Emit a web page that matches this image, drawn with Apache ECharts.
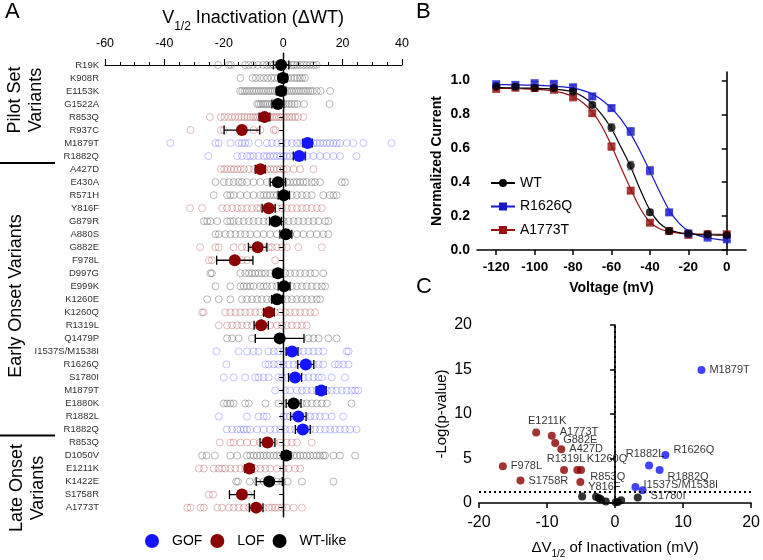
<!DOCTYPE html>
<html><head><meta charset="utf-8">
<script src="https://cdn.jsdelivr.net/npm/echarts@6/dist/echarts.min.js"></script>
<style>html,body{margin:0;padding:0;background:#fff}#c{width:763px;height:560px}</style>
</head><body><div id="c"></div><script>
// ---------- Panel A data ----------
const categories = ['R19K','K908R','E1153K','G1522A','R853Q','R937C','M1879T','R1882Q','A427D','E430A','R571H','Y816F','G879R','A880S','G882E','F978L','D997G','E999K','K1260E','K1260Q','R1319L','Q1479P','I1537S/M1538I','R1626Q','S1780I','M1879T','E1880K','R1882L','R1882Q','R853Q','D1050V','E1211K','K1422E','S1758R','A1773T'];
const phenotype = ['WT','WT','WT','WT','LOF','LOF','GOF','GOF','LOF','WT','WT','LOF','WT','WT','LOF','LOF','WT','WT','WT','LOF','LOF','WT','GOF','GOF','GOF','GOF','WT','GOF','GOF','LOF','WT','LOF','WT','LOF','LOF'];
const meanShift = [-0.7,-0.1,-0.7,-1.8,-6.3,-13.9,8.2,5.4,-7.7,-1.8,0.2,-4.9,-2.6,0.9,-8.6,-16.3,-1.8,0.3,-2.1,-4.8,-7.4,-1.2,3.0,7.6,4.0,12.8,3.5,5.1,6.6,-5.3,1.0,-11.4,-4.7,-13.9,-9.1];
const semShift = [2.6,1.5,1.6,2.0,1.8,6.0,1.6,2.0,1.7,2.6,1.9,2.2,2.0,2.0,3.1,6.1,1.5,2.0,1.8,1.8,2.4,8.2,2.0,2.7,2.2,1.7,2.5,2.6,2.5,2.5,1.5,1.5,4.4,4.2,2.3];
const cellShifts = [
 [-21.9,-18.3,-17.6,-12.8,-11.6,-10.2,-8.5,-6.8,-5.5,-4.3,-3.2,-2.1,-1.0,0.2,1.5,2.9,3.6,4.6,5.7,6.8,7.9,9.0,10.2,11.3],
 [-14.4,-10.3,-9.2,-7.8,-6.5,-5.3,-4.0,-2.9,-1.8,-0.8,0.5,1.6,2.7,3.8,4.7,5.6,6.4,7.3],
 [-14.5,-13.8,-13.0,-12.2,-11.4,-10.5,-9.8,-9.0,-8.2,-7.4,-6.6,-5.8,-5.0,-4.3,-3.5,-2.8,-2.0,-1.3,-0.5,0.4,1.2,2.0,2.8,3.6,4.4,5.2,6.0,6.8,7.6,8.4,9.2,10.0,11.3,12.6,15.8],
 [-8.8,-8.2,-7.5,-6.8,-6.1,-5.4,-4.6,-3.9,-3.1,-2.4,-1.6,-0.8,0.1,1.0,1.9,2.8,3.8,4.8,7.0,15.6],
 [-24.7,-21.0,-19.8,-18.5,-17.3,-16.2,-15.0,-14.0,-13.0,-12.0,-11.0,-10.2,-9.4,-8.6,-7.8,-7.0,-6.2,-5.4,-4.6,-3.8,-3.0,-2.2,-1.4,-0.6,0.3,1.2,2.1,3.0,4.0,5.0,6.8],
 [-31.2,-21.0,-20.0,-10.0,-7.7,-3.2,-2.6],
 [-38.0,-22.8,-21.7,-17.8,-15.0,-13.9,-12.8,-11.6,-8.3,-5.5,-3.8,-2.1,-0.5,1.2,2.9,4.6,5.7,6.8,7.9,9.0,10.2,11.3,12.4,13.5,14.6,15.7,16.9,18.0,19.1,21.4,23.6,27.0,36.5],
 [-25.2,-15.5,-13.9,-12.2,-11.1,-10.0,-8.3,-6.6,-5.5,-4.4,-3.2,-2.1,-1.0,0.1,1.2,2.3,3.5,4.6,5.7,6.8,7.9,10.2,12.4,14.6,16.9,19.1,24.7],
 [-21.0,-19.9,-18.8,-17.6,-16.5,-15.4,-14.3,-13.2,-11.5,-9.9,-8.2,-6.5,-5.4,-4.3,-3.2,-2.1,-1.0,0.1,1.2,3.5,5.7,10.2],
 [-22.8,-20.0,-18.3,-16.7,-15.0,-13.9,-12.2,-10.0,-7.7,-5.5,-3.8,-2.1,-0.4,1.2,2.3,3.5,4.6,5.7,6.8,7.9,9.6,10.7,12.4,19.7,20.8],
 [-23.4,-18.9,-17.8,-16.7,-14.4,-12.2,-10.0,-7.7,-6.6,-5.5,-4.4,-3.2,-2.1,-0.4,1.2,2.9,4.6,6.3,7.9,9.6,13.5,15.7,16.9,18.0],
 [-31.4,-27.3,-20.6,-18.9,-17.2,-15.5,-13.9,-12.2,-10.5,-8.8,-7.7,-6.6,-5.5,-3.8,-2.1,-0.4,1.2,2.9,4.6,6.3,7.9,9.6,11.3,13.0],
 [-26.7,-25.6,-24.5,-22.2,-18.9,-17.8,-16.7,-15.0,-13.3,-11.6,-10.0,-8.3,-6.6,-4.9,-3.2,-1.6,0.1,1.8,3.5,5.1,6.8,8.5,10.2,11.9,14.1,15.2],
 [-22.8,-21.7,-19.5,-17.8,-16.1,-14.4,-12.8,-11.1,-8.8,-6.6,-4.4,-2.1,0.1,2.3,4.6,6.8,9.1,11.3,13.5,15.2],
 [-28.0,-22.8,-21.7,-16.7,-13.9,-12.2,-10.0,-8.3,-6.6,-4.9,-3.8,-2.1,-0.4,1.2,5.1,13.0],
 [-25.0,-24.0,-13.9,-12.2,-2.7],
 [-24.5,-24.0,-14.4,-12.8,-11.6,-10.5,-9.4,-8.3,-7.2,-6.0,-4.4,-2.7,-1.0,0.7,2.3,4.0,5.7,7.4,9.1,10.7,13.5],
 [-22.8,-17.8,-14.4,-13.3,-12.2,-11.1,-10.0,-7.7,-6.6,-5.5,-3.8,-2.1,-0.4,1.2,2.9,4.6,6.3,7.9,9.6,11.3,13.0,14.1],
 [-25.6,-21.7,-17.8,-13.9,-12.2,-10.5,-8.8,-7.2,-5.5,-3.8,-2.1,-0.4,1.2,2.9,4.6,6.3,7.9,9.6,11.3,12.4],
 [-27.3,-26.8,-19.5,-17.8,-16.1,-14.4,-12.8,-11.1,-9.4,-7.7,-6.0,-4.4,-2.7,-1.0,0.7,2.3,4.0,5.7,7.4,9.1,10.7],
 [-21.7,-18.9,-17.2,-15.5,-13.9,-12.2,-10.5,-8.8,-6.6,-4.4,-2.1,-0.4,1.2,2.9,4.6,6.3,7.9],
 [-18.9,-17.2,-15.0,-10.5,8.5,10.2,11.9,15.2,18.0],
 [-22.5,-15.0,-12.2,-10.0,-8.3,-5.0,-3.2,-1.6,0.1,1.8,3.5,5.1,6.8,8.5,10.2,11.9,13.5,21.4,22.0],
 [-19.1,-6.0,-4.9,-3.2,-1.6,0.1,1.8,3.5,5.1,6.8,8.5,10.2,11.9,13.5,17.4,18.6,20.2,22.0],
 [-20.0,-16.7,-12.8,-9.4,-8.3,-6.6,-4.9,-1.6,-0.4,1.2,2.9,4.6,6.8,8.5,10.2,11.9,13.0,16.3,20.8],
 [-2.7,0.7,2.3,4.6,6.3,7.9,9.6,11.3,13.0,14.7,16.3,18.0,19.7,21.4,23.0,24.2,25.3],
 [-20.0,-18.9,-17.8,-16.7,-12.8,-11.6,-6.0,-1.6,1.2,2.9,4.6,6.3,7.9,9.6,11.3,13.0,14.7,23.0],
 [-21.7,-12.2,-8.3,-6.6,-5.5,0.1,1.2,2.3,4.0,5.7,7.4,9.1,10.7,12.4,14.1,16.3,20.2],
 [-19.0,-17.2,-15.5,-14.4,-13.3,-12.2,-11.1,-8.8,-6.6,-4.4,-2.7,-1.0,0.7,2.3,4.0,5.7,7.4,9.1,10.7,12.4,14.1,15.8,17.4,19.1,20.8,22.5,24.7],
 [-21.4,-17.8,-16.7,-14.4,-12.2,-10.0,-7.7,-5.5,-3.2,-1.0,1.2,2.9,4.6,9.6],
 [-27.3,-25.8,-23.0,-17.8,-15.5,-12.2,-11.1,-10.0,-8.8,-7.7,-6.6,-5.5,-4.4,-3.2,-2.1,-1.0,0.1,1.2,2.3,3.5,4.6,5.7,6.8,7.9,9.1,10.2,11.3,12.4,13.5,14.1,16.9,19.1,24.2],
 [-28.4,-26.7,-23.4,-21.7,-20.6,-19.5,-17.8,-16.1,-14.4,-12.8,-11.1,-9.4,-7.7,-6.0,-4.4,-2.1,0.1,1.8,4.0,5.7],
 [-15.8,-15.2,-11.3,-8.8,-6.6,-5.5,-2.1,-0.4,1.5,6.3,16.9],
 [-25.0,-23.6,-14.4,-11.6],
 [-32.3,-31.2,-27.8,-26.7,-22.2,-20.6,-18.3,-16.7,-15.0,-13.3,-11.6,-10.0,-8.3,-6.6,-4.9,-3.8,-2.7,-1.6,-0.4,1.2,3.5,6.3]
];

// ---------- Panel B data ----------
const voltages = [-120,-110,-100,-90,-80,-70,-60,-50,-40,-30,-20,-10,0];
const wtCurrent = [0.965,0.963,0.955,0.955,0.935,0.856,0.722,0.498,0.222,0.112,0.098,0.093,0.089];
const wtErr = [0.01,0.01,0.01,0.01,0.012,0.015,0.022,0.025,0.015,0.01,0.008,0.008,0.008];
const r1626qCurrent = [0.978,0.974,0.984,0.980,0.960,0.906,0.837,0.699,0.468,0.222,0.098,0.073,0.063];
const r1626qErr = [0.01,0.01,0.01,0.012,0.012,0.015,0.015,0.022,0.025,0.015,0.01,0.008,0.008];
const a1773tCurrent = [0.950,0.957,0.955,0.945,0.900,0.807,0.610,0.350,0.161,0.112,0.089,0.093,0.093];
const a1773tErr = [0.01,0.01,0.01,0.012,0.012,0.015,0.02,0.015,0.012,0.01,0.008,0.008,0.008];
// fitted curves, every 5 mV
const fitVoltages = [-120,-115,-110,-105,-100,-95,-90,-85,-80,-75,-70,-65,-60,-55,-50,-45,-40,-35,-30,-25,-20,-15,-10,-5,0];
const wtFit = [0.958,0.957,0.956,0.955,0.954,0.952,0.949,0.943,0.932,0.905,0.862,0.798,0.715,0.605,0.49,0.355,0.235,0.158,0.12,0.103,0.096,0.091,0.089,0.088,0.087];
const r1626qFit = [0.975,0.975,0.974,0.973,0.972,0.970,0.967,0.962,0.955,0.942,0.92,0.885,0.835,0.77,0.685,0.58,0.465,0.345,0.235,0.16,0.112,0.086,0.071,0.063,0.058];
const a1773tFit = [0.953,0.953,0.952,0.95,0.948,0.944,0.937,0.925,0.905,0.87,0.815,0.73,0.615,0.485,0.36,0.245,0.165,0.125,0.108,0.099,0.095,0.094,0.093,0.093,0.093];
const bXTicks = [-120,-100,-80,-60,-40,-20,0];
const bYTicks = [0,0.2,0.4,0.6,0.8,1.0];

// ---------- Panel C data ----------
const volcanoNames = ['E1211K','A1773T','G882E','A427D','F978L','R1319L','','K1260Q','S1758R','R853Q','Y816F','','','','','','','','','M1879T','R1626Q','R1882L','R1882Q','I1537S/M1538I','S1780I'];
const volcanoShift = [-11.6,-9.3,-8.8,-7.9,-16.5,-7.5,-5.55,-5.0,-13.9,-5.1,-4.84,-2.8,-2.4,-2.1,-1.35,0.1,0.4,0.9,3.34,12.7,7.4,5.0,6.55,3.0,4.05];
const volcanoLogP = [7.93,7.57,6.75,6.05,4.13,3.7,3.7,3.7,2.53,2.36,0.72,0.7,0.55,0.43,0.18,0.08,0.12,0.3,0.62,14.95,5.4,4.2,3.7,1.8,1.42];
const volcanoClass = ['LOF','LOF','LOF','LOF','LOF','LOF','LOF','LOF','LOF','LOF','WT','WT','WT','WT','WT','WT','WT','WT','WT','GOF','GOF','GOF','GOF','GOF','GOF'];

// ---------- styling ----------
const FONT = 'Liberation Sans, Arial, Helvetica, sans-serif';
const colMean = {GOF:'#1414ff', LOF:'#8b0000', WT:'#000000'};
const colOpen = {GOF:'rgba(40,40,255,0.38)', LOF:'rgba(150,25,25,0.4)', WT:'rgba(95,95,95,0.62)'};
const volcanoLabelStyle = {
 'E1211K':{position:'top',distance:2,offset:[11,0]},
 'A1773T':{position:'right',distance:4,offset:[0,-4]},
 'G882E':{position:'right',distance:4,offset:[0,-3]},
 'A427D':{position:'right',distance:4,offset:[0,0]},
 'F978L':{position:'right',distance:4,offset:[0,0]},
 'R1319L':{position:'top',distance:2,offset:[2,0]},
 'K1260Q':{position:'top',distance:2,offset:[26,0]},
 'S1758R':{position:'right',distance:4,offset:[0,0]},
 'R853Q':{position:'right',distance:4,offset:[2,-5]},
 'Y816F':{position:'right',distance:4,offset:[-2,-10]},
 'M1879T':{position:'right',distance:4,offset:[0,0]},
 'R1626Q':{position:'right',distance:4,offset:[0,-5]},
 'R1882L':{position:'top',distance:2,offset:[-4,0]},
 'R1882Q':{position:'right',distance:4,offset:[0,7]},
 'I1537S/M1538I':{position:'right',distance:4,offset:[0,-2]},
 'S1780I':{position:'right',distance:4,offset:[0,6]}
};

const yMinA = -0.92, yMaxA = 34.72;
const rowIdx = categories.map((c,i)=>i);

function openSeries(cls){
  const data = [];
  cellShifts.forEach((arr,i)=>{ if(phenotype[i]===cls) arr.forEach(v=>data.push([v,i])); });
  return {type:'scatter', xAxisIndex:0, yAxisIndex:0, name:'cells-'+cls, data, symbolSize:7, silent:true, z:1,
    itemStyle:{color:'rgba(0,0,0,0)', borderColor:colOpen[cls], borderWidth:0.9}};
}
function meanSeries(cls, name){
  const data = [];
  meanShift.forEach((m,i)=>{ if(phenotype[i]===cls) data.push([m,i]); });
  return {type:'scatter', xAxisIndex:0, yAxisIndex:0, name, data, symbolSize:12, z:6,
    itemStyle:{color:colMean[cls], opacity:1}};
}
function hErrRender(capH, color, lw){
  return function(params, api){
    const m = api.value(0), e = api.value(1), i = api.value(2);
    const a = api.coord([m-e, i]), b = api.coord([m+e, i]);
    const st = {stroke:color, lineWidth:lw};
    return {type:'group', children:[
      {type:'line', shape:{x1:a[0],y1:a[1],x2:b[0],y2:b[1]}, style:st},
      {type:'line', shape:{x1:a[0],y1:a[1]-capH,x2:a[0],y2:a[1]+capH}, style:st},
      {type:'line', shape:{x1:b[0],y1:b[1]-capH,x2:b[0],y2:b[1]+capH}, style:st}
    ]};
  };
}
function vErrRender(params, api){
  const x = api.value(0), y = api.value(1), e = api.value(2);
  const a = api.coord([x, y-e]), b = api.coord([x, y+e]);
  const st = {stroke:'#7a7a7a', lineWidth:1};
  const w = 3.5;
  return {type:'group', children:[
    {type:'line', shape:{x1:a[0],y1:a[1],x2:b[0],y2:b[1]}, style:st},
    {type:'line', shape:{x1:a[0]-w,y1:a[1],x2:a[0]+w,y2:a[1]}, style:st},
    {type:'line', shape:{x1:b[0]-w,y1:b[1],x2:b[0]+w,y2:b[1]}, style:st}
  ]};
}
function fitSeries(name, vals, color, symbol){
  return {type:'line', name, xAxisIndex:1, yAxisIndex:1, data:fitVoltages.map((v,i)=>[v,vals[i]]),
    smooth:0.35, symbol, symbolSize:8, showSymbol:false, z:2, silent:true,
    lineStyle:{color, width:1.2}, itemStyle:{color}};
}
function pointSeries(name, vals, color, symbol){
  return {type:'scatter', name, xAxisIndex:1, yAxisIndex:1, data:voltages.map((v,i)=>[v,vals[i]]),
    symbol, symbolSize:8, z:4, itemStyle:{color}};
}
function errSeriesB(vals, errs){
  return {type:'custom', xAxisIndex:1, yAxisIndex:1, name:'errB', renderItem:vErrRender, z:3,
    encode:{x:0,y:1}, data:voltages.map((v,i)=>[v,vals[i],errs[i]]), silent:true};
}

const volcanoData = volcanoNames.map((n,i)=>{
  const cls = volcanoClass[i];
  const item = {name:n, value:[volcanoShift[i], volcanoLogP[i]], itemStyle:{color:colMean[cls]}};
  if(n && volcanoLabelStyle[n]) item.label = Object.assign({show:true, formatter:n}, volcanoLabelStyle[n]);
  return item;
});

const axBlack = {lineStyle:{color:'#000', width:1.6}};
const option = {
  animation:false,
  textStyle:{fontFamily:FONT},
  grid:[
    {left:105, top:53, width:297, height:464},
    {left:477, top:72, width:269, height:178},
    {left:479, top:325, width:276, height:184}
  ],
  legend:[
    {data:['GOF','LOF','WT-like'], left:140, top:529, itemWidth:30, itemHeight:14, itemGap:8, icon:'circle',
      selectedMode:false, textStyle:{fontSize:14, color:'#000', fontFamily:FONT}},
    {data:['WT','R1626Q','A1773T'], orient:'vertical', left:485, top:171, itemWidth:24, itemHeight:10, itemGap:9.5,
      selectedMode:false, textStyle:{fontSize:14, color:'#000', fontFamily:FONT}}
  ],
  xAxis:[
    {gridIndex:0, type:'value', position:'top', min:-60, max:40, interval:20,
      axisLine:{show:true, lineStyle:{color:'#000', width:1.2}},
      axisTick:{show:true, length:6, lineStyle:{color:'#000', width:1.1}},
      minorTick:{show:true, splitNumber:4, length:3, lineStyle:{color:'#000', width:1}},
      axisLabel:{fontSize:12.5, color:'#000', margin:3, fontFamily:FONT}, splitLine:{show:false}},
    {gridIndex:1, type:'value', min:-130, max:10,
      axisLine:axBlack,
      axisTick:{show:true, length:5, lineStyle:{color:'#000', width:1.5}, customValues:bXTicks},
      axisLabel:{fontSize:13.5, fontWeight:'bold', color:'#000', margin:10, customValues:bXTicks, fontFamily:FONT},
      splitLine:{show:false},
      name:'Voltage (mV)', nameLocation:'middle', nameGap:31,
      nameTextStyle:{fontSize:14, fontWeight:'bold', color:'#000', fontFamily:FONT}},
    {gridIndex:2, type:'value', min:-20, max:20, interval:10,
      axisLine:axBlack,
      axisTick:{show:true, length:5, lineStyle:{color:'#000', width:1.5}},
      axisLabel:{fontSize:16, color:'#000', margin:12, fontFamily:FONT}, splitLine:{show:false},
      name:'{a|ΔV}{s|1/2}{a| of Inactivation (mV)}', nameLocation:'middle', nameGap:37,
      nameTextStyle:{fontSize:15, color:'#000', fontFamily:FONT, rich:{
        a:{fontSize:15, color:'#000', fontFamily:FONT, lineHeight:18, verticalAlign:'top'},
        s:{fontSize:10, color:'#000', fontFamily:FONT, lineHeight:10, padding:[9,0,0,0], verticalAlign:'top'}}}}
  ],
  yAxis:[
    {gridIndex:0, type:'value', inverse:true, min:yMinA, max:yMaxA,
      axisLine:{show:true, lineStyle:{color:'#000', width:1.2}},
      axisTick:{show:true, length:4, customValues:rowIdx, lineStyle:{color:'#000', width:1}},
      axisLabel:{customValues:rowIdx, formatter:(v)=>categories[Math.round(v)], fontSize:9.5, color:'#333', margin:6, fontFamily:FONT},
      splitLine:{show:false}},
    {gridIndex:1, type:'value', min:0, max:1.05,
      axisLine:axBlack,
      axisTick:{show:true, length:5, customValues:bYTicks, lineStyle:{color:'#000', width:1.5}},
      axisLabel:{customValues:bYTicks, formatter:(v)=>v.toFixed(1), fontSize:14, fontWeight:'bold', color:'#000', margin:7, fontFamily:FONT},
      splitLine:{show:false},
      name:'Normalized Current', nameLocation:'middle', nameGap:33, nameRotate:90,
      nameTextStyle:{fontSize:14, fontWeight:'bold', color:'#000', fontFamily:FONT}},
    {gridIndex:2, type:'value', min:0, max:20, interval:5,
      axisLine:axBlack,
      axisTick:{show:true, length:5, lineStyle:{color:'#000', width:1.5}},
      axisLabel:{fontSize:16, color:'#000', margin:7, fontFamily:FONT}, splitLine:{show:false},
      name:'-Log(p-value)', nameLocation:'middle', nameGap:30, nameRotate:90,
      nameTextStyle:{fontSize:15, color:'#000', fontFamily:FONT}}
  ],
  graphic:[
    {type:'text', x:5, y:1, style:{text:'A', fontSize:22, fontFamily:FONT, fill:'#000'}},
    {type:'text', x:416, y:1, style:{text:'B', fontSize:22, fontFamily:FONT, fill:'#000'}},
    {type:'text', x:416, y:276, style:{text:'C', fontSize:22, fontFamily:FONT, fill:'#000'}},
    {type:'text', x:253, y:20, style:{text:'{v|V}{s|1/2}{v| Inactivation (ΔWT)}', align:'center', verticalAlign:'middle',
      textAlign:'center', textVerticalAlign:'middle',
      rich:{v:{fontSize:18, fontFamily:FONT, fill:'#000', color:'#000', lineHeight:21, verticalAlign:'top'},
            s:{fontSize:12, fontFamily:FONT, fill:'#000', color:'#000', lineHeight:12, padding:[11,0,0,0], verticalAlign:'top'}}}},
    {type:'text', x:26, y:100, rotation:Math.PI/2, style:{text:'Pilot Set\nVariants', fontSize:18, lineHeight:21, fontFamily:FONT, fill:'#000',
      align:'center', verticalAlign:'middle', textAlign:'center', textVerticalAlign:'middle'}},
    {type:'text', x:16, y:296, rotation:Math.PI/2, style:{text:'Early Onset Variants', fontSize:18, fontFamily:FONT, fill:'#000',
      align:'center', verticalAlign:'middle', textAlign:'center', textVerticalAlign:'middle'}},
    {type:'text', x:28, y:488, rotation:Math.PI/2, style:{text:'Late Onset\nVariants', fontSize:18, lineHeight:21, fontFamily:FONT, fill:'#000',
      align:'center', verticalAlign:'middle', textAlign:'center', textVerticalAlign:'middle'}},
    {type:'line', shape:{x1:0, y1:163, x2:55, y2:163}, style:{stroke:'#000', lineWidth:2}},
    {type:'line', shape:{x1:0, y1:435.5, x2:55, y2:435.5}, style:{stroke:'#000', lineWidth:2}}
  ],
  series:[
    Object.assign(openSeries('WT'), {markLine:{silent:true, symbol:'none', label:{show:false},
      lineStyle:{color:'#000', width:1.3, type:'solid'}, data:[{xAxis:0}]}}),
    openSeries('LOF'),
    openSeries('GOF'),
    {type:'custom', name:'errA', xAxisIndex:0, yAxisIndex:0, renderItem:hErrRender(4.5,'#000',1.3), z:5, silent:true,
      encode:{x:0, y:2}, data:meanShift.map((m,i)=>[m, semShift[i], i])},
    meanSeries('GOF','GOF'),
    meanSeries('LOF','LOF'),
    meanSeries('WT','WT-like'),
    fitSeries('A1773T', a1773tFit, '#9a0f0f', 'rect'),
    fitSeries('R1626Q', r1626qFit, '#1717d0', 'rect'),
    fitSeries('WT', wtFit, '#000000', 'circle'),
    errSeriesB(wtCurrent, wtErr), errSeriesB(r1626qCurrent, r1626qErr), errSeriesB(a1773tCurrent, a1773tErr),
    pointSeries('A1773T data', a1773tCurrent, '#9a0f0f', 'rect'),
    pointSeries('R1626Q data', r1626qCurrent, '#1717d0', 'rect'),
    pointSeries('WT data', wtCurrent, '#000000', 'circle'),
    {type:'scatter', name:'volcano', xAxisIndex:2, yAxisIndex:2, symbolSize:8, data:volcanoData, z:4,
      label:{show:false, fontSize:11, color:'#000', fontFamily:FONT},
      markLine:{silent:true, symbol:'none', label:{show:false},
        lineStyle:{color:'#000', width:1.8, type:[2,3]}, data:[{xAxis:0},{yAxis:1.3}]}}
  ]
};
const chart = echarts.init(document.getElementById('c'), null, {renderer:'canvas'});
chart.setOption(option);
</script></body></html>
